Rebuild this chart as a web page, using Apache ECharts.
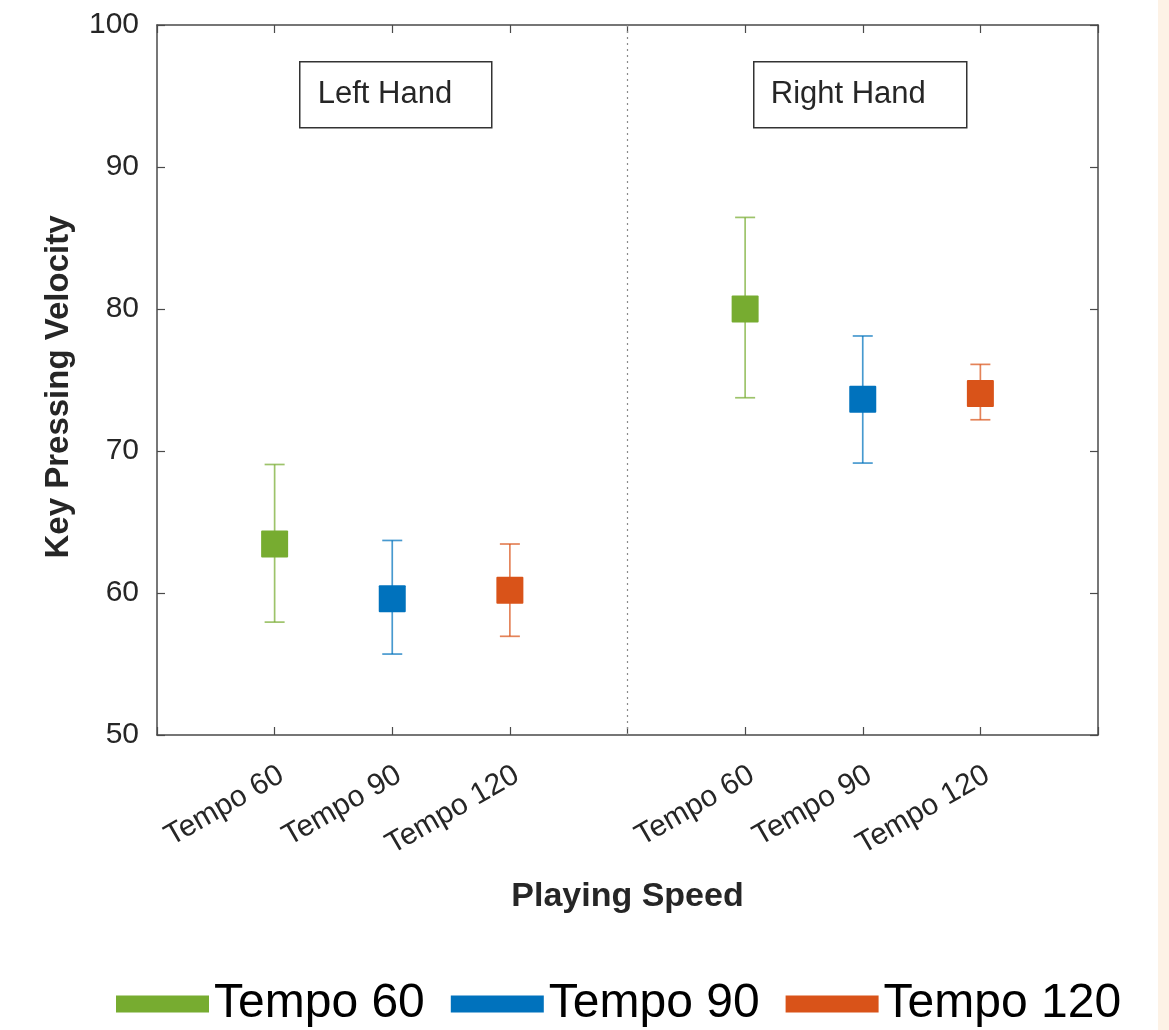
<!DOCTYPE html>
<html>
<head>
<meta charset="utf-8">
<script src="https://cdn.jsdelivr.net/npm/echarts@6/dist/echarts.min.js"></script>
<style>
  html, body { margin: 0; padding: 0; background: #ffffff; }
  #chart { width: 1169px; height: 1030px; }
</style>
</head>
<body>
<div id="chart"></div>
<script>
// ---- data ----
const slotLabels = ['', 'Tempo 60', 'Tempo 90', 'Tempo 120', '', 'Tempo 60', 'Tempo 90', 'Tempo 120', ''];
const panelTitles = ['Left Hand', 'Right Hand'];
const seriesNames = ['Tempo 60', 'Tempo 90', 'Tempo 120'];
const seriesColors = ['#77ac30', '#0072bd', '#d95319'];
const dividerSlot = 4;

// slot index on the x axis for [left hand, right hand]
const slots60 = [1, 5];
const slots90 = [2, 6];
const slots120 = [3, 7];

const mean60 = [63.45, 80.0];
const low60 = [57.95, 73.75];
const high60 = [69.05, 86.45];

const mean90 = [59.6, 73.65];
const low90 = [55.7, 69.15];
const high90 = [63.7, 78.1];

const mean120 = [60.2, 74.05];
const low120 = [56.95, 72.2];
const high120 = [63.45, 76.1];

const yTicks = [50, 60, 70, 80, 90, 100];

// ---- build ----
function rows(slots, mean, low, high) {
  return slots.map((s, i) => [s, mean[i], low[i], high[i]]);
}
const seriesData = [
  rows(slots60, mean60, low60, high60),
  rows(slots90, mean90, low90, high90),
  rows(slots120, mean120, low120, high120)
];

const FONT = "'Liberation Sans', Arial, Helvetica, sans-serif";
const AXIS_COLOR = '#4a4a4a';
const TEXT_COLOR = '#262626';
const MARK = 27, CAP = 20;

function renderErr(params, api) {
  const x = api.value(0);
  const pm = api.coord([x, api.value(1)]);
  const pl = api.coord([x, api.value(2)]);
  const ph = api.coord([x, api.value(3)]);
  const color = api.visual('color');
  const ls = { stroke: color, lineWidth: 1.7, opacity: 0.72 };
  return {
    type: 'group',
    children: [
      { type: 'line', shape: { x1: pl[0], y1: pl[1], x2: ph[0], y2: ph[1] }, style: ls },
      { type: 'line', shape: { x1: ph[0] - CAP / 2, y1: ph[1], x2: ph[0] + CAP / 2, y2: ph[1] }, style: ls },
      { type: 'line', shape: { x1: pl[0] - CAP / 2, y1: pl[1], x2: pl[0] + CAP / 2, y2: pl[1] }, style: ls },
      { type: 'rect', shape: { x: pm[0] - MARK / 2, y: pm[1] - MARK / 2, width: MARK, height: MARK, r: 1 }, style: { fill: color } }
    ]
  };
}

function axisCommon() {
  return {
    axisLine: { show: true, onZero: false, lineStyle: { color: AXIS_COLOR, width: 1.5 } },
    axisTick: { show: true, inside: true, length: 8, lineStyle: { color: AXIS_COLOR, width: 1.2 } },
    splitLine: { show: false }
  };
}

const chart = echarts.init(document.getElementById('chart'), null, { renderer: 'canvas' });

const option = {
  backgroundColor: '#ffffff',
  animation: false,
  grid: { left: 157, top: 25, right: 71, bottom: 295, containLabel: false },
  xAxis: [
    Object.assign({
      type: 'value', min: 0, max: slotLabels.length - 1, interval: 1,
      position: 'bottom',
      name: 'Playing Speed', nameLocation: 'middle', nameGap: 145,
      nameTextStyle: { fontFamily: FONT, fontSize: 34, fontWeight: 'bold', color: TEXT_COLOR },
      axisLabel: {
        rotate: 30, margin: 42, fontFamily: FONT, fontSize: 30, color: TEXT_COLOR,
        padding: [0, -8, 0, 0],
        formatter: v => slotLabels[Math.round(v)] || ''
      }
    }, axisCommon()),
    Object.assign({
      type: 'value', min: 0, max: slotLabels.length - 1, interval: 1,
      position: 'top', axisLabel: { show: false }
    }, axisCommon())
  ],
  yAxis: [
    Object.assign({
      type: 'value', min: yTicks[0], max: yTicks[yTicks.length - 1], interval: 10,
      position: 'left',
      name: 'Key Pressing Velocity', nameLocation: 'middle', nameGap: 82,
      nameTextStyle: { fontFamily: FONT, fontSize: 33, fontWeight: 'bold', color: TEXT_COLOR, padding: [0, 14, 0, 0] },
      axisLabel: { margin: 18, fontFamily: FONT, fontSize: 30, color: TEXT_COLOR }
    }, axisCommon()),
    Object.assign({
      type: 'value', min: yTicks[0], max: yTicks[yTicks.length - 1], interval: 10,
      position: 'right', axisLabel: { show: false }
    }, axisCommon())
  ],
  legend: {
    left: 116, top: 980, padding: 0,
    icon: 'rect', itemWidth: 93, itemHeight: 17, itemGap: 26,
    textStyle: { fontFamily: FONT, fontSize: 48, color: '#000000' },
    data: seriesNames
  },
  graphic: [
    { type: 'rect', left: 1158, top: 0, shape: { width: 11, height: 1030 }, style: { fill: '#fdf2e6' }, silent: true },
    {
      type: 'group', left: 299, top: 61, children: [
        { type: 'rect', shape: { x: 0, y: 0, width: 192, height: 66 }, style: { fill: '#ffffff', stroke: '#333333', lineWidth: 1.5 } },
        { type: 'text', x: 18, y: 33, style: { text: panelTitles[0], fontFamily: FONT, fontSize: 31, fill: TEXT_COLOR, verticalAlign: 'middle' } }
      ]
    },
    {
      type: 'group', left: 753, top: 61, children: [
        { type: 'rect', shape: { x: 0, y: 0, width: 213, height: 66 }, style: { fill: '#ffffff', stroke: '#333333', lineWidth: 1.5 } },
        { type: 'text', x: 17, y: 33, style: { text: panelTitles[1], fontFamily: FONT, fontSize: 31, fill: TEXT_COLOR, verticalAlign: 'middle' } }
      ]
    }
  ],
  series: seriesNames.map((name, i) => {
    const s = {
      name: name,
      type: 'custom',
      renderItem: renderErr,
      itemStyle: { color: seriesColors[i] },
      encode: { x: 0, y: [1, 2, 3] },
      data: seriesData[i],
      z: 3
    };
    if (i === 0) {
      s.markLine = {
        silent: true, symbol: 'none', animation: false,
        label: { show: false },
        lineStyle: { color: '#8a8a8a', type: [2, 4], width: 1.2 },
        data: [{ xAxis: dividerSlot }]
      };
    }
    return s;
  })
};

chart.setOption(option);
</script>
</body>
</html>
